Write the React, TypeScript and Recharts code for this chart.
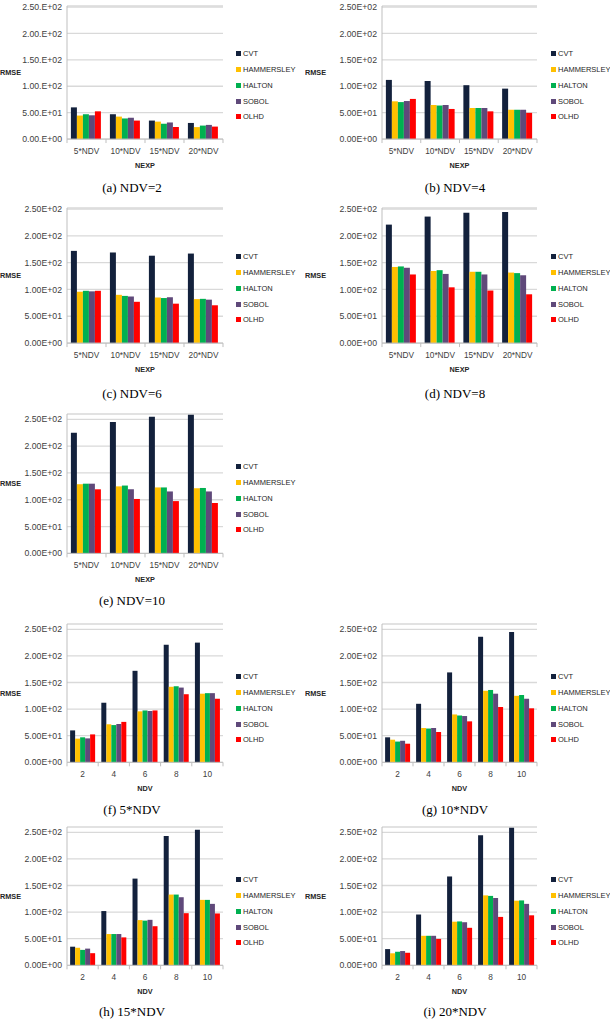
import React from "react";
import {
  BarChart,
  Bar,
  XAxis,
  YAxis,
  CartesianGrid,
  Legend,
} from "recharts";

const methods = ["CVT", "HAMMERSLEY", "HALTON", "SOBOL", "OLHD"];
const colors = ["#13213c", "#ffc000", "#00b050", "#5f497a", "#ff0000"];

const nexpLabels = ["5*NDV", "10*NDV", "15*NDV", "20*NDV"];
const ndvLabels = ["2", "4", "6", "8", "10"];

// rows = NDV 2,4,6,8,10 ; cols = NEXP 5*,10*,15*,20*NDV
const cvt = [
  [60, 47, 35, 30.5],
  [112, 110, 102, 95.5],
  [172, 169, 163, 167],
  [221, 236, 243, 244.5],
  [225, 245, 255, 258.5],
];
const hammersley = [
  [44.5, 42.5, 33, 22.6],
  [71.5, 64.5, 58.8, 55.5],
  [95.8, 90, 85, 82],
  [142, 134.5, 133, 131.5],
  [129, 125, 123, 121.5],
];
const halton = [
  [47, 39, 29, 25.5],
  [70, 63.5, 58.8, 55.5],
  [97.5, 88, 84, 82.5],
  [143, 136, 133, 130.5],
  [130, 126.5, 123, 122],
];
const sobol = [
  [45, 40.5, 31.4, 26.8],
  [72, 64.5, 58.8, 55.5],
  [96.5, 87, 85.5, 81],
  [140.5, 129, 128, 126.5],
  [130, 119.5, 115.5, 115.5],
];
const olhd = [
  [52.5, 35, 22.8, 23.6],
  [76, 57, 52.5, 49.6],
  [97.5, 77, 73.5, 70.5],
  [128, 104, 98, 91],
  [119.5, 101.5, 97.5, 94],
];

const yTicks = [0, 50, 100, 150, 200, 250];
const series = [cvt, hammersley, halton, sobol, olhd];

const byNdv = (i: number) =>
  nexpLabels.map((cat, j) => {
    const row: Record<string, any> = { cat };
    methods.forEach((m, k) => (row[m] = series[k][i][j]));
    return row;
  });

const byNexp = (j: number) =>
  ndvLabels.map((cat, i) => {
    const row: Record<string, any> = { cat };
    methods.forEach((m, k) => (row[m] = series[k][i][j]));
    return row;
  });

const sci = (v: number, dotted: boolean) => {
  const dot = dotted ? "." : "";
  if (v === 0) return `0.00${dot}E+00`;
  const e = Math.floor(Math.log10(v));
  const m = v / Math.pow(10, e);
  return `${m.toFixed(2)}${dot}E+${String(e).padStart(2, "0")}`;
};

const FONT = "'Liberation Sans', Arial, sans-serif";

interface Panel {
  col: number;
  y250: number;
  y0: number;
  max: number;
  data: Record<string, any>[];
  xTitle: string;
  caption: string;
  captionY: number;
  legendY: number;
  dotted?: boolean;
}

const panels: Panel[] = [
  { col: 0, y250: 7, y0: 139, max: 252, data: byNdv(0), xTitle: "NEXP", caption: "(a) NDV=2", captionY: 188, legendY: 54, dotted: true },
  { col: 1, y250: 7, y0: 139, max: 252, data: byNdv(1), xTitle: "NEXP", caption: "(b) NDV=4", captionY: 188, legendY: 54 },
  { col: 0, y250: 209, y0: 343, max: 252, data: byNdv(2), xTitle: "NEXP", caption: "(c) NDV=6", captionY: 394, legendY: 257 },
  { col: 1, y250: 209, y0: 343, max: 252, data: byNdv(3), xTitle: "NEXP", caption: "(d) NDV=8", captionY: 394, legendY: 257 },
  { col: 0, y250: 419, y0: 553, max: 260, data: byNdv(4), xTitle: "NEXP", caption: "(e) NDV=10", captionY: 601, legendY: 467 },
  { col: 0, y250: 629, y0: 762, max: 260, data: byNexp(0), xTitle: "NDV", caption: "(f) 5*NDV", captionY: 810, legendY: 677 },
  { col: 1, y250: 629, y0: 762, max: 260, data: byNexp(1), xTitle: "NDV", caption: "(g) 10*NDV", captionY: 810, legendY: 677 },
  { col: 0, y250: 832, y0: 965, max: 260, data: byNexp(2), xTitle: "NDV", caption: "(h) 15*NDV", captionY: 1012, legendY: 880 },
  { col: 1, y250: 832, y0: 965, max: 260, data: byNexp(3), xTitle: "NDV", caption: "(i) 20*NDV", captionY: 1012, legendY: 880 },
];

const COL_X = [0, 305];
const PLOT_L = [67, 382];
const PLOT_R = [223, 537];
const LEGEND_X = [236, 551];
const CAPTION_X = [132, 455];
const Y_W = 60;
const X_H = 30;
const M_TOP = 4;

const XTick = (props: any) => {
  const { x, y, payload, index, band, count } = props;
  const stroke = "#bfbfbf";
  return (
    <g>
      <line x1={x - band / 2} y1={y} x2={x - band / 2} y2={y + 4} stroke={stroke} />
      {index === count - 1 && (
        <line x1={x + band / 2} y1={y} x2={x + band / 2} y2={y + 4} stroke={stroke} />
      )}
      <text x={x} y={y + 15} textAnchor="middle" fontSize={8.3} fontFamily={FONT} fill="#404040">
        {payload.value}
      </text>
    </g>
  );
};

// legend keeps the series order (recharts would sort by name)
const LegendBox = () => (
  <div style={{ fontFamily: FONT, fontSize: 7.5, color: "#262626" }}>
    {methods.map((m, k) => (
      <div key={m} style={{ display: "flex", alignItems: "center", height: 15.75 }}>
        <span style={{ width: 5, height: 5, background: colors[k], marginRight: 2, display: "inline-block" }} />
        <span>{m}</span>
      </div>
    ))}
  </div>
);

function PanelChart({ p }: { p: Panel }) {
  const chartLeft = COL_X[p.col];
  const plotW = PLOT_R[p.col] - PLOT_L[p.col];
  const plotH = ((p.y0 - p.y250) * p.max) / 250;
  const plotTop = p.y0 - plotH;
  const chartTop = plotTop - M_TOP;
  const height = M_TOP + plotH + X_H + 2;
  const mLeft = PLOT_L[p.col] - chartLeft - Y_W;
  const mRight = chartLeft + 305 - PLOT_R[p.col];
  const band = plotW / p.data.length;

  return (
    <div style={{ position: "absolute", left: chartLeft, top: chartTop }}>
      <BarChart
        width={305}
        height={height}
        data={p.data}
        margin={{ top: M_TOP, right: mRight, left: mLeft, bottom: 2 }}
        barCategoryGap="10%"
        barGap={0}
      >
        <CartesianGrid horizontal vertical={false} stroke="#d9d9d9" strokeWidth={1.3} />
        <XAxis
          dataKey="cat"
          height={X_H}
          interval={0}
          tickSize={0}
          tickMargin={0}
          tickLine={false}
          axisLine={{ stroke: "#bfbfbf" }}
          tick={<XTick band={band} count={p.data.length} />}
          label={{
            value: p.xTitle,
            position: "insideBottom",
            offset: 1.5,
            style: { fontFamily: FONT, fontSize: 7.3, fontWeight: 700, fill: "#262626" },
          }}
        />
        <YAxis
          width={Y_W}
          domain={[0, p.max]}
          ticks={yTicks}
          interval={0}
          tickSize={0}
          tickMargin={5}
          tickLine={false}
          axisLine={{ stroke: "#bfbfbf" }}
          tickFormatter={(v: number) => sci(v, !!p.dotted)}
          tick={{ fontSize: 8.7, fontFamily: FONT, fill: "#404040" }}
          label={{
            value: "RMSE",
            position: "insideLeft",
            offset: -mLeft,
            style: { fontFamily: FONT, fontSize: 7.3, fontWeight: 700, fill: "#262626" },
          }}
        />
        <Legend
          layout="vertical"
          align="center"
          verticalAlign="middle"
          content={<LegendBox />}
          wrapperStyle={{
            left: LEGEND_X[p.col] - chartLeft,
            top: p.legendY - 7.9 - chartTop,
            width: "auto",
          }}
        />
        {methods.map((m, k) => (
          <Bar key={m} dataKey={m} fill={colors[k]} isAnimationActive={false} />
        ))}
      </BarChart>
    </div>
  );
}

export default function App() {
  return (
    <div style={{ position: "absolute", left: 0, top: 0, width: 610, height: 1020, background: "#fff" }}>
      {panels.map((p) => (
        <PanelChart key={p.caption} p={p} />
      ))}
      {panels.map((p) => (
        <div
          key={"cap" + p.caption}
          style={{
            position: "absolute",
            left: CAPTION_X[p.col] - 80,
            width: 160,
            top: p.captionY - 9,
            height: 18,
            lineHeight: "18px",
            textAlign: "center",
            fontFamily: "'Liberation Serif', 'Times New Roman', serif",
            fontSize: 13,
            color: "#000",
          }}
        >
          {p.caption}
        </div>
      ))}
    </div>
  );
}
